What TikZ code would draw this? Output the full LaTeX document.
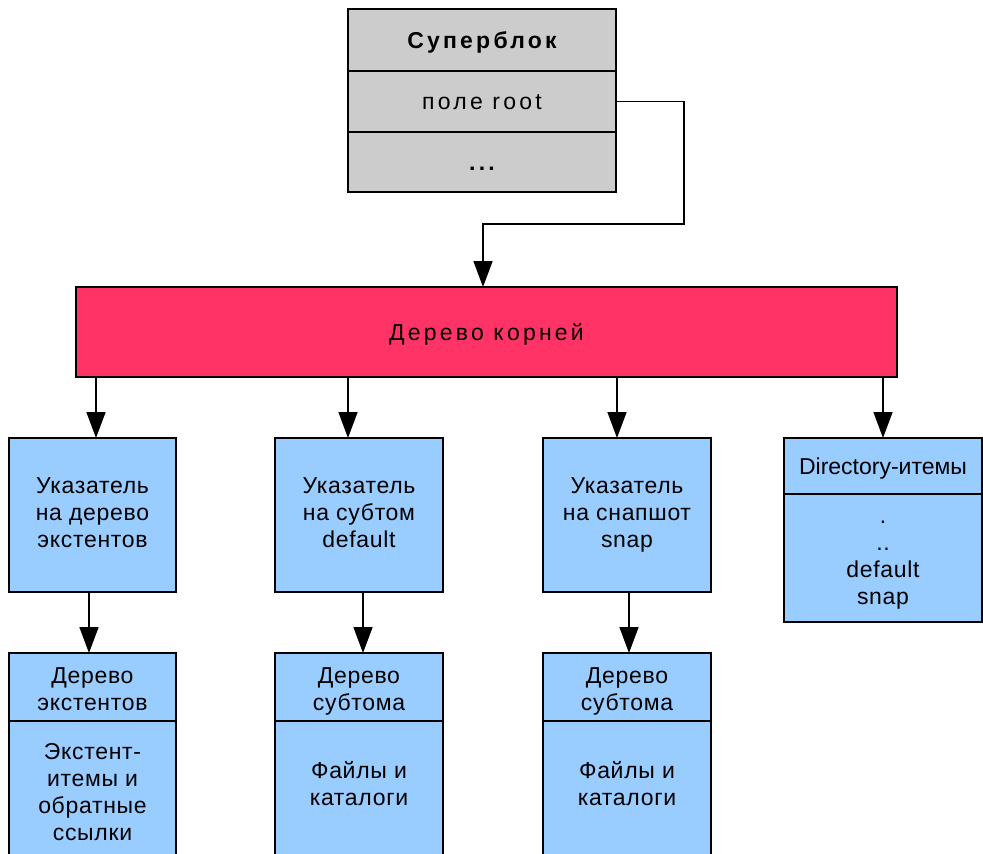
\documentclass[tikz,border=0pt]{standalone}
\usepackage{fontspec}
\setmainfont{Liberation Sans}
\newfontfamily\widefont[LetterSpace=14]{Liberation Sans}
\newfontfamily\medfont[LetterSpace=3]{Liberation Sans}
\usetikzlibrary{arrows.meta,calc}
\definecolor{sbgray}{RGB}{204,204,204}
\definecolor{rootred}{RGB}{255,51,102}
\definecolor{boxblue}{RGB}{153,204,255}
\newcommand{\topstrut}{\rule{0pt}{21.9pt}}
\newcommand{\botstrut}{\rule[-5.1pt]{0pt}{5.1pt}}
\begin{document}
\begin{tikzpicture}[x=1pt,y=-1pt,
  every node/.style={font=\medfont\fontsize{23}{27}\selectfont, inner sep=0pt, outer sep=0pt,
    execute at begin node=\topstrut, execute at end node=\botstrut},
  box/.style={draw=black, line width=1.6pt, anchor=north west, align=center},
  gbox/.style={box, fill=sbgray, font=\widefont\fontsize{23}{27}\selectfont},
  rbox/.style={box, fill=rootred, font=\widefont\fontsize{23}{27}\selectfont},
  bbox/.style={box, fill=boxblue},
  txt/.style={align=center},
  arr/.style={line width=1.6pt, -{Triangle[length=26pt,width=19pt]}},
]
\clip (0,0) rectangle (983,854);
% Superblock
\node[gbox, minimum width=268pt, minimum height=62pt] (sb1) at (348,9) {\bfseries Суперблок};
\node[gbox, minimum width=268pt, minimum height=61pt] (sb2) at (348,71) {поле root};
\node[gbox, minimum width=268pt, minimum height=60pt] (sb3) at (348,132) {\bfseries ...};
% Root tree
\node[rbox, minimum width=821pt, minimum height=90pt] (root) at (76,287) {Дерево корней};
\coordinate (c1) at (684,224);
\draw[arr] (sb2.east) -| (c1) -| ([xshift=-3.5pt]root.north);
% Level 1
\node[bbox, minimum width=167pt, minimum height=154pt] (p1) at (9,438) {Указатель\\на дерево\\экстентов};
\node[bbox, minimum width=168pt, minimum height=154pt] (p2) at (275,438) {Указатель\\на субтом\\default};
\node[bbox, minimum width=168pt, minimum height=154pt] (p3) at (543,438) {Указатель\\на снапшот\\snap};
\node[bbox, minimum width=198pt, minimum height=56pt, font=\rmfamily\fontsize{23}{27}\selectfont] (d1) at (784,438) {Directory-итемы};
\node[bbox, minimum width=198pt, minimum height=128pt] (d2) at (784,494) {};
\node[txt] (dt) at (883,565) {.\\..\\default\\snap};
\draw[arr] ([xshift=3.5pt]p1.north |- root.south) -- ([xshift=3.5pt]p1.north);
\draw[arr] ([xshift=-11pt]p2.north |- root.south) -- ([xshift=-11pt]p2.north);
\draw[arr] ([xshift=-10pt]p3.north |- root.south) -- ([xshift=-10pt]p3.north);
\draw[arr] (d1.north |- root.south) -- (d1.north);
% Level 2
\node[bbox, minimum width=167pt, minimum height=68pt] (e1) at (9,653) {};
\node[txt] (te1) at (92.5,692) {Дерево\\экстентов};
\node[bbox, minimum width=167pt, minimum height=140pt] (e2) at (9,721) {};
\node[txt] (te) at (92.5,795) {Экстент-\\итемы и\\обратные\\ссылки};
\node[bbox, minimum width=168pt, minimum height=68pt] (s1) at (275,653) {};
\node[txt] (ts1) at (359,692) {Дерево\\субтома};
\node[bbox, minimum width=168pt, minimum height=140pt] (s2) at (275,721) {};
\node[txt] (ts) at (359,786) {Файлы и\\каталоги};
\node[bbox, minimum width=168pt, minimum height=68pt] (n1) at (543,653) {};
\node[txt] (tn1) at (627,692) {Дерево\\субтома};
\node[bbox, minimum width=168pt, minimum height=140pt] (n2) at (543,721) {};
\node[txt] (tn) at (627,786) {Файлы и\\каталоги};
\draw[arr] ([xshift=-3.5pt]p1.south) -- ([xshift=-3.5pt]e1.north);
\draw[arr] ([xshift=4pt]p2.south) -- ([xshift=4pt]s1.north);
\draw[arr] ([xshift=2pt]p3.south) -- ([xshift=2pt]n1.north);
\end{tikzpicture}
\end{document}
